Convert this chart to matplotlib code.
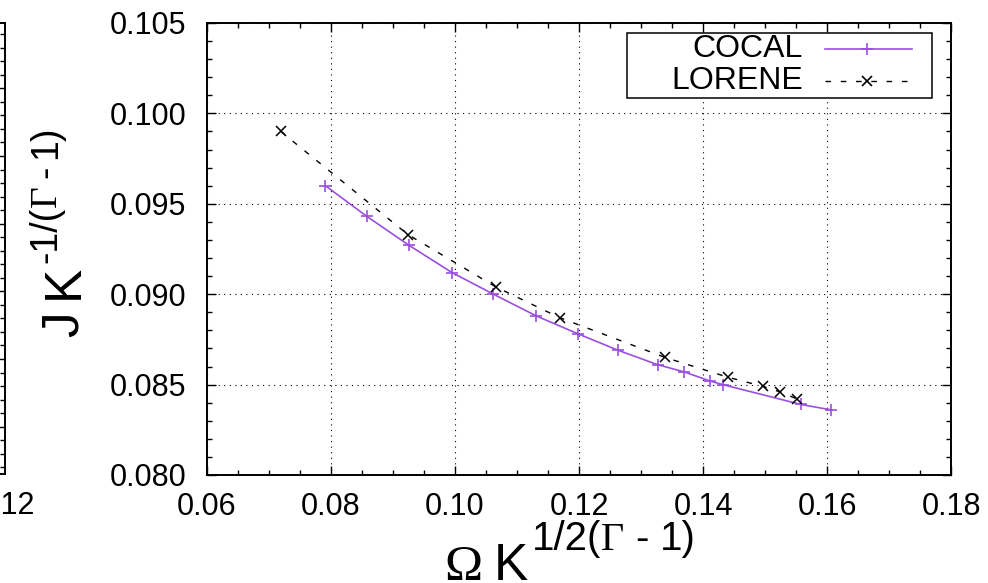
import matplotlib
matplotlib.use('Agg')
import matplotlib.pyplot as plt
from matplotlib.ticker import MultipleLocator, FormatStrFormatter
from matplotlib.lines import Line2D
from matplotlib.patches import Rectangle

# ---------------- data ----------------
cocal_omega = [0.0791, 0.0858, 0.0926, 0.0995, 0.1062, 0.1131, 0.1199,
               0.1263, 0.1327, 0.1370, 0.1411, 0.1432, 0.1558, 0.1607]
cocal_J = [0.0960, 0.0943, 0.0927, 0.0912, 0.0900, 0.0888, 0.0878,
           0.0869, 0.0861, 0.0857, 0.0852, 0.0850, 0.0839, 0.0836]
lorene_omega = [0.0719, 0.0924, 0.1066, 0.1169, 0.1339, 0.1441, 0.1497, 0.1524, 0.1552]
lorene_J = [0.0990, 0.0933, 0.0904, 0.0887, 0.0865, 0.0854, 0.0849, 0.0846, 0.0842]
series_labels = ['COCAL', 'LORENE']
x_ticks = [0.06, 0.08, 0.10, 0.12, 0.14, 0.16, 0.18]
y_ticks = [0.080, 0.085, 0.090, 0.095, 0.100, 0.105]
left_panel_xticks = [0.12]

W, H = 988, 583
SANS = 'Liberation Sans'
SERIF = 'Liberation Serif'
plt.rcParams['font.family'] = [SANS, 'DejaVu Sans']
PURPLE = '#9a4fe0'

fig = plt.figure(figsize=(W / 100, H / 100), dpi=100)


def fx(px):
    return px / W


def fy(py):
    return 1 - py / H


# ---------------- partial left panel (cut off) ----------------
ax0 = fig.add_axes([fx(-700), fy(474), fx(705), fy(23) - fy(474)])
ax0.set_xlim(0.02, 0.12)
ax0.set_ylim(-3.5, 29.83)
ax0.set_xticks(left_panel_xticks)
ax0.set_xticklabels(['%.2f' % v for v in left_panel_xticks])
ax0.yaxis.set_major_locator(MultipleLocator(5))
ax0.yaxis.set_minor_locator(MultipleLocator(1))
ax0.tick_params(axis='y', which='both', direction='in', left=False, right=True,
                labelleft=False, width=1)
ax0.tick_params(axis='y', which='major', length=6.5)
ax0.tick_params(axis='y', which='minor', length=3.5)
ax0.tick_params(axis='x', direction='in', labelsize=22, pad=12, length=0)
for s in ax0.spines.values():
    s.set_linewidth(1.4)

# ---------------- main panel ----------------
ax = fig.add_axes([fx(207), fy(475), fx(951) - fx(207), fy(23) - fy(475)])
ax.set_xlim(0.06, 0.18)
ax.set_ylim(0.080, 0.105)
ax.set_xticks(x_ticks)
ax.set_yticks(y_ticks)
ax.xaxis.set_minor_locator(MultipleLocator(0.005))
ax.yaxis.set_minor_locator(MultipleLocator(0.001))
ax.xaxis.set_major_formatter(FormatStrFormatter('%.2f'))
ax.yaxis.set_major_formatter(FormatStrFormatter('%.3f'))
ax.tick_params(which='both', direction='in', top=True, right=True, width=1)
ax.tick_params(which='major', length=6.5, labelsize=22)
ax.tick_params(which='minor', length=3.5)
ax.tick_params(axis='x', pad=12)
ax.tick_params(axis='y', pad=15)
for s in ax.spines.values():
    s.set_linewidth(1.4)
ax.grid(True, which='major', color='black', lw=0.8, linestyle=(0, (1, 4)))
ax.set_axisbelow(True)

ax.plot(cocal_omega, cocal_J, color=PURPLE, lw=1.2, marker='+', ms=9, mew=1.2, zorder=3)
ax.plot(lorene_omega, lorene_J, color='black', lw=1.0, linestyle=(0, (4, 7)),
        marker='x', ms=7, mew=1.1, zorder=3)

# ---------------- legend (gnuplot style, right-aligned text) ----------------
def ax_x(px):
    return (px - 207) / 744


def ax_y(py):
    return (475 - py) / 452


ax.add_patch(Rectangle((ax_x(627), ax_y(98)), ax_x(932) - ax_x(627), ax_y(33) - ax_y(98),
                       transform=ax.transAxes, facecolor='white', edgecolor='black',
                       lw=1.1, zorder=5, clip_on=False))
rows = [(49, PURPLE, '-', '+', 9), (81, 'black', (0, (4, 7)), 'x', 7)]
for label, (py, col, ls, mk, ms) in zip(series_labels, rows):
    ax.text(ax_x(803), ax_y(py), label, transform=ax.transAxes, ha='right',
            va='center', fontsize=23, zorder=6)
    ax.add_line(Line2D([ax_x(825), ax_x(912)], [ax_y(py), ax_y(py)], transform=ax.transAxes,
                       color=col, lw=1.2 if mk == '+' else 1.0, linestyle=ls, zorder=6,
                       clip_on=False))
    ax.add_line(Line2D([ax_x(867)], [ax_y(py)], transform=ax.transAxes, color=col,
                       marker=mk, ms=ms, mew=1.2, linestyle='none', zorder=7, clip_on=False))

# ---------------- axis labels (gnuplot enhanced-text look) ----------------
renderer = fig.canvas.get_renderer()


def chain(pieces, x, y, rot=0):
    for s, fam, size, off, gap in pieces:
        if rot == 0:
            x += gap
            t = fig.text(x / W, 1 - (y - off) / H, s, family=fam, size=size,
                         ha='left', va='baseline')
            bb = t.get_window_extent(renderer)
            x = bb.x1
        else:
            y -= gap
            t = fig.text((x - off) / W, 1 - y / H, s, family=fam, size=size, rotation=90,
                         rotation_mode='anchor', ha='left', va='baseline')
            bb = t.get_window_extent(renderer)
            y = H - bb.y1


chain([('\u03a9', SERIF, 37, 0, 0), ('K', SANS, 37, 0, 12),
       ('1/2(', SANS, 29, 30, 3), ('\u0393', SERIF, 29, 30, 0),
       ('-', SANS, 29, 30, 11), ('1)', SANS, 29, 30, 11)], 444, 580, rot=0)

chain([('J', SANS, 37, 0, 0), ('K', SANS, 37, 0, 12),
       ('-1/(', SANS, 27, 22, 2), ('\u0393', SERIF, 27, 22, 0),
       ('-', SANS, 27, 22, 7), ('1)', SANS, 27, 22, 7)], 78, 337, rot=90)

fig.savefig('out.png', dpi=100)
